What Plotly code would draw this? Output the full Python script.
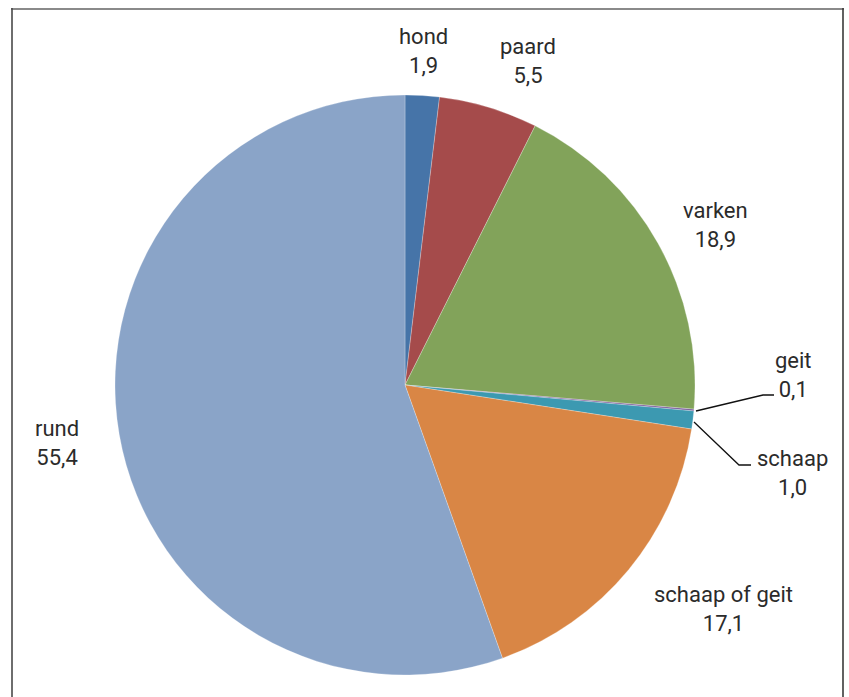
import plotly.graph_objects as go

W, H = 849, 697

categories = ["hond", "paard", "varken", "geit", "schaap", "schaap of geit", "rund"]
values = [1.9, 5.5, 18.9, 0.1, 1.0, 17.1, 55.4]
value_labels = ["1,9", "5,5", "18,9", "0,1", "1,0", "17,1", "55,4"]
colors = ["#4674a8", "#a54b4b", "#82a35a", "#7b5c9c", "#3c99b1", "#d98645", "#8aa4c8"]

# label centre positions in pixels (x, y of first line)
label_pos = [(423, 38), (528, 48), (715, 212), (793, 362), (792, 460), (723, 596), (57, 430)]


def px(x):
    return x / W


def py(y):
    return 1 - y / H


cx, cy, r = 405, 385, 290

fig = go.Figure()
fig.add_trace(go.Pie(
    labels=categories,
    values=values,
    sort=False,
    direction="clockwise",
    rotation=0,
    textinfo="none",
    marker=dict(colors=colors, line=dict(color="rgba(255,255,255,0.5)", width=0.5)),
    domain=dict(x=[px(cx - r), px(cx + r)], y=[py(cy + r), py(cy - r)]),
    showlegend=False,
    hovertemplate="%{label}: %{value}<extra></extra>",
))

annotations = []
for cat, vl, (lx, ly) in zip(categories, value_labels, label_pos):
    annotations.append(dict(
        x=px(lx), y=py(ly + 13), xref="paper", yref="paper",
        text=f"{cat}<br>{vl}", showarrow=False,
        xanchor="center", yanchor="middle", align="center",
        font=dict(family="Roboto, sans-serif", size=22, color="#2b2b2b"),
    ))

shapes = [
    # leader lines
    dict(type="path", xref="paper", yref="paper",
         path=f"M {px(696)} {py(411)} L {px(763)} {py(395)} L {px(774)} {py(395)}",
         line=dict(color="#111111", width=1.3)),
    dict(type="path", xref="paper", yref="paper",
         path=f"M {px(694)} {py(422)} L {px(739)} {py(465)} L {px(751)} {py(465)}",
         line=dict(color="#111111", width=1.3)),
    # frame
    dict(type="line", xref="paper", yref="paper", x0=px(11), x1=px(844), y0=py(9), y1=py(9),
         line=dict(color="#8a8a8a", width=2)),
    dict(type="line", xref="paper", yref="paper", x0=px(12), x1=px(12), y0=py(8), y1=py(700),
         line=dict(color="#4a4a4a", width=1.6)),
    dict(type="line", xref="paper", yref="paper", x0=px(843), x1=px(843), y0=py(8), y1=py(700),
         line=dict(color="#3a3a3a", width=1.6)),
]

fig.update_layout(
    width=W, height=H,
    margin=dict(l=0, r=0, t=0, b=0),
    paper_bgcolor="white", plot_bgcolor="white",
    annotations=annotations,
    shapes=shapes,
)

fig.write_html(
    "out.html",
    config={"displayModeBar": False},
    post_script="document.body.style.margin='0px';document.body.style.overflow='hidden';",
)
